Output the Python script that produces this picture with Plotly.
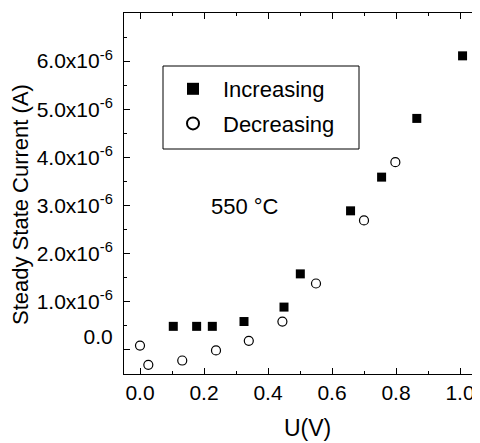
import plotly.graph_objects as go

# increasing voltage sweep
u_inc = [0.104, 0.177, 0.226, 0.325, 0.45, 0.501, 0.658, 0.755, 0.865, 1.008]
i_inc = [0.49e-6, 0.49e-6, 0.49e-6, 0.59e-6, 0.89e-6, 1.58e-6, 2.89e-6, 3.59e-6, 4.81e-6, 6.11e-6]

# decreasing voltage sweep
u_dec = [0.0, 0.026, 0.132, 0.2375, 0.34, 0.445, 0.55, 0.70, 0.798]
i_dec = [0.09e-6, -0.31e-6, -0.22e-6, -0.01e-6, 0.19e-6, 0.59e-6, 1.38e-6, 2.69e-6, 3.9e-6]

y_tickvals = [0, 1e-6, 2e-6, 3e-6, 4e-6, 5e-6, 6e-6]
# the "0.0" label sits a little above its tick in the original
y_ticktext = ["0.0<br> "] + ["%.1fx10<sup>-6</sup>" % v for v in [1, 2, 3, 4, 5, 6]]
x_tickvals = [0.0, 0.2, 0.4, 0.6, 0.8, 1.0]
x_ticktext = ["0.0", "0.2", "0.4", "0.6", "0.8", "1.0"]

font = "Liberation Sans, Arial, sans-serif"

# page body has an 8px margin, so the figure is drawn 8px right and down
W, H = 472, 435
L, T, B = 116, 5, 69
PW, PH = W - L, H - T - B


def px_x(p):
    return (p - 8 - L) / PW


def px_y(p):
    return (H - B + 8 - p) / PH


fig = go.Figure()
fig.add_trace(go.Scatter(x=u_inc, y=i_inc, mode="markers", name="Increasing",
                         legendgroup="a",
                         marker=dict(symbol="square", size=9, color="black")))
fig.add_trace(go.Scatter(x=u_dec, y=i_dec, mode="markers", name="Decreasing",
                         legendgroup="b",
                         marker=dict(symbol="circle-open", size=9, color="black",
                                     line=dict(width=1.2))))

fig.add_annotation(x=0.328, y=2.98e-6, text="550 °C", showarrow=False,
                   font=dict(size=22, color="black"))

# axis titles placed by hand so the margins stay fixed
fig.add_annotation(xref="paper", yref="paper", x=px_x(20), y=px_y(205),
                   xanchor="center", yanchor="middle",
                   text="Steady State Current (A)", textangle=-90, showarrow=False,
                   font=dict(size=22, color="black"))
fig.add_annotation(xref="paper", yref="paper", x=px_x(307), y=px_y(428),
                   xanchor="center", yanchor="middle",
                   text="U(V)", showarrow=False,
                   font=dict(size=23, color="black"))

# legend frame
fig.add_shape(type="rect", xref="paper", yref="paper",
              x0=px_x(163), x1=px_x(359), y0=px_y(149), y1=px_y(66),
              line=dict(color="black", width=1), fillcolor="rgba(0,0,0,0)")

fig.update_layout(
    width=W, height=H,
    margin=dict(l=L, r=0, t=T, b=B),
    paper_bgcolor="white", plot_bgcolor="white",
    font=dict(family=font, size=21, color="black"),
    showlegend=True,
    legend=dict(x=px_x(163), y=px_y(68), xanchor="left", yanchor="top",
                bgcolor="rgba(0,0,0,0)", borderwidth=0,
                font=dict(size=22), itemsizing="constant", itemwidth=50,
                tracegroupgap=3),
    xaxis=dict(range=[-0.05, 1.0625], tickvals=x_tickvals, ticktext=x_ticktext,
               ticks="inside", ticklen=6, tickwidth=1, tickcolor="black",
               minor=dict(ticks="inside", ticklen=3, dtick=0.1, tick0=0, tickcolor="black"),
               showline=True, linecolor="black", linewidth=1, mirror="ticks",
               showgrid=False, zeroline=False, automargin=False,
               tickfont=dict(size=21)),
    yaxis=dict(range=[-0.5e-6, 7.0e-6], tickvals=y_tickvals, ticktext=y_ticktext,
               ticks="inside", ticklen=6, tickwidth=1, tickcolor="black",
               minor=dict(ticks="inside", ticklen=3, dtick=0.5e-6, tick0=0, tickcolor="black"),
               showline=True, linecolor="black", linewidth=1,
               showgrid=False, zeroline=False, automargin=False,
               ticklabelstandoff=6, tickfont=dict(size=21)),
)

fig.write_html("out.html")
